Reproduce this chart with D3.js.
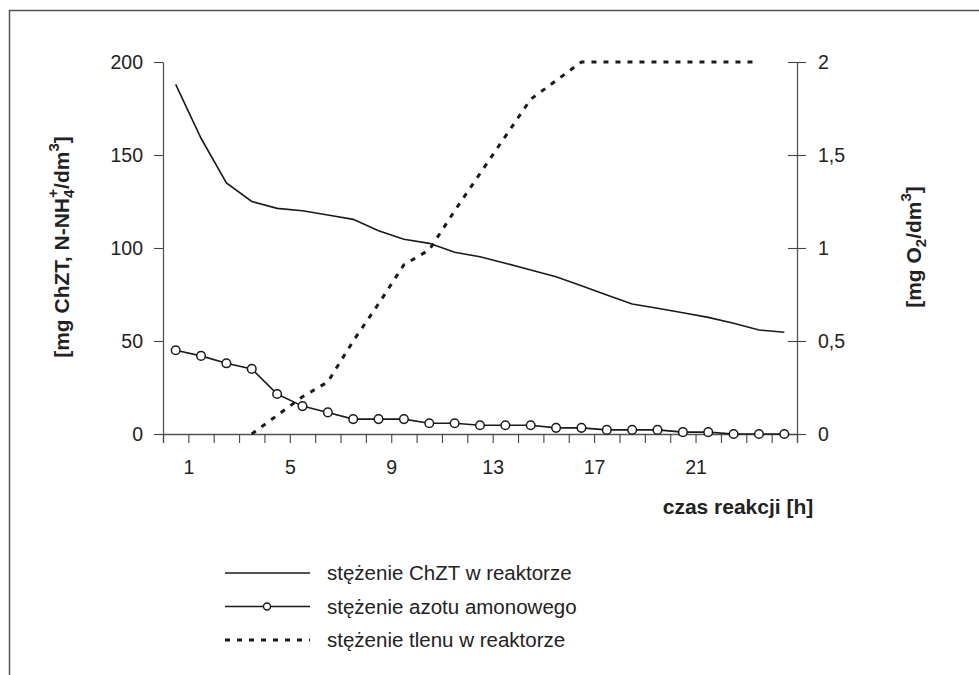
<!DOCTYPE html>
<html>
<head>
<meta charset="utf-8">
<script src="https://d3js.org/d3.v7.min.js"></script>
<style>
  body { margin: 0; background: #fff; }
  svg text { font-family: "Liberation Sans", Arial, sans-serif; fill: #222; }
</style>
</head>
<body>
<div id="chart"></div>
<script>
// czas reakcji [h] - 25 pomiarow
const hours = d3.range(1, 26);
const chzt = [188, 159, 135, 125, 121.3, 120, 117.7, 115.4, 109.3, 104.7, 102.5, 97.7, 95.3,
              91.8, 88.2, 84.6, 79.7, 74.7, 69.9, 67.6, 65.2, 62.7, 59.5, 55.9, 54.7];
const azot = [45, 42, 38, 35, 21.5, 15, 11.6, 8, 8, 8, 5.8, 5.8, 4.7, 4.7, 4.7,
              3.3, 3.3, 2.2, 2.2, 2.2, 1, 1, 0, 0, 0];
const tlen = [null, null, null, 0, 0.1, 0.2, 0.28, 0.5, 0.7, 0.91, 0.99, 1.2, 1.4,
              1.6, 1.8, 1.9, 2, 2, 2, 2, 2, 2, 2, 2, null];
const leftTicks = [0, 50, 100, 150, 200];
const rightTicks = [0, 0.5, 1, 1.5, 2];
const xLabels = [1, 5, 9, 13, 17, 21];
const legendNames = ["stężenie ChZT w reaktorze", "stężenie azotu amonowego", "stężenie tlenu w reaktorze"];

const width = 979, height = 675;
const svg = d3.select("#chart").append("svg")
  .attr("width", width).attr("height", height);

// ramka
svg.append("path")
  .attr("d", "M9.5,675 V10.5 H979")
  .attr("fill", "none").attr("stroke", "#555").attr("stroke-width", 1.5);

const x = d3.scaleLinear().domain([0, 25]).range([163, 797]);
const yL = d3.scaleLinear().domain([0, 200]).range([434, 62]);
const yR = d3.scaleLinear().domain([0, 2]).range([434, 62]);
const px = (d, i) => x(i + 0.5);

const fmt = d => String(d).replace(".", ",");

// os X
const gx = svg.append("g").attr("transform", "translate(0,434)")
  .call(d3.axisBottom(x).tickValues(d3.range(0, 26)).tickSize(9).tickPadding(17)
    .tickFormat(d => xLabels.includes(d) ? d : ""));
// os lewa
const gl = svg.append("g").attr("transform", "translate(163,0)")
  .call(d3.axisLeft(yL).tickValues(leftTicks).tickSize(9).tickPadding(11).tickSizeOuter(0));
// os prawa (znaczniki krzyzowe)
const gr = svg.append("g").attr("transform", "translate(797,0)")
  .call(d3.axisRight(yR).tickValues(rightTicks).tickSize(9).tickPadding(12).tickFormat(fmt).tickSizeOuter(0));
gr.selectAll(".tick line").attr("x1", -9);

[gx, gl, gr].forEach(g => {
  g.select(".domain").attr("stroke", "#555").attr("stroke-width", 1.3);
  g.selectAll(".tick line").attr("stroke", "#444").attr("stroke-width", 1.1);
  g.selectAll(".tick text").attr("font-size", 19.5).attr("fill", "#222")
    .attr("font-family", "Liberation Sans, Arial, sans-serif");
});

// serie
const lineL = d3.line().x(px).y(d => yL(d));
const lineR = d3.line().defined(d => d != null).x(px).y(d => yR(d));

svg.append("path").datum(chzt).attr("d", lineL)
  .attr("fill", "none").attr("stroke", "#1a1a1a").attr("stroke-width", 1.6);

svg.append("path").datum(tlen).attr("d", lineR)
  .attr("fill", "none").attr("stroke", "#1a1a1a").attr("stroke-width", 3)
  .attr("stroke-dasharray", "5,7");

svg.append("path").datum(azot).attr("d", lineL)
  .attr("fill", "none").attr("stroke", "#1a1a1a").attr("stroke-width", 1.6);
svg.selectAll("circle.az").data(azot).join("circle").attr("class", "az")
  .attr("cx", px).attr("cy", d => yL(d)).attr("r", 4.3)
  .attr("fill", "#fff").attr("stroke", "#1a1a1a").attr("stroke-width", 1.5);

// tytuly osi
svg.append("text").attr("x", 738).attr("y", 514)
  .attr("text-anchor", "middle").attr("font-size", 21).attr("font-weight", "bold")
  .text("czas reakcji [h]");

const tl = svg.append("text")
  .attr("transform", "translate(69,247) rotate(-90)")
  .attr("text-anchor", "middle").attr("font-size", 21).attr("font-weight", "bold");
tl.append("tspan").text("[mg ChZT, N-NH");
tl.append("tspan").attr("font-size", 15).attr("dy", 5).text("4");
tl.append("tspan").attr("font-size", 15).attr("dx", -8).attr("dy", -16).text("+");
tl.append("tspan").attr("dy", 11).text("/dm");
tl.append("tspan").attr("font-size", 15).attr("dy", -10).text("3");
tl.append("tspan").attr("dy", 10).text("]");

const tr = svg.append("text")
  .attr("transform", "translate(921,247) rotate(-90)")
  .attr("text-anchor", "middle").attr("font-size", 21).attr("font-weight", "bold");
tr.append("tspan").text("[mg O");
tr.append("tspan").attr("font-size", 15).attr("dy", 5).text("2");
tr.append("tspan").attr("dy", -5).text("/dm");
tr.append("tspan").attr("font-size", 15).attr("dy", -10).text("3");
tr.append("tspan").attr("dy", 10).text("]");

// legenda
const lg = svg.append("g");
const rows = lg.selectAll("g").data(legendNames).join("g")
  .attr("transform", (d, i) => `translate(225,${573 + i * 33.5})`);
rows.append("line").attr("x1", 0).attr("x2", 85)
  .attr("stroke", "#1a1a1a")
  .attr("stroke-width", (d, i) => i === 2 ? 3 : 1.6)
  .attr("stroke-dasharray", (d, i) => i === 2 ? "5,7" : null);
rows.filter((d, i) => i === 1).append("circle")
  .attr("cx", 42).attr("r", 3.5).attr("fill", "#fff").attr("stroke", "#1a1a1a").attr("stroke-width", 1.4);
rows.append("text").attr("x", 102).attr("dy", "0.35em").attr("font-size", 20.5).text(d => d);
</script>
</body>
</html>
